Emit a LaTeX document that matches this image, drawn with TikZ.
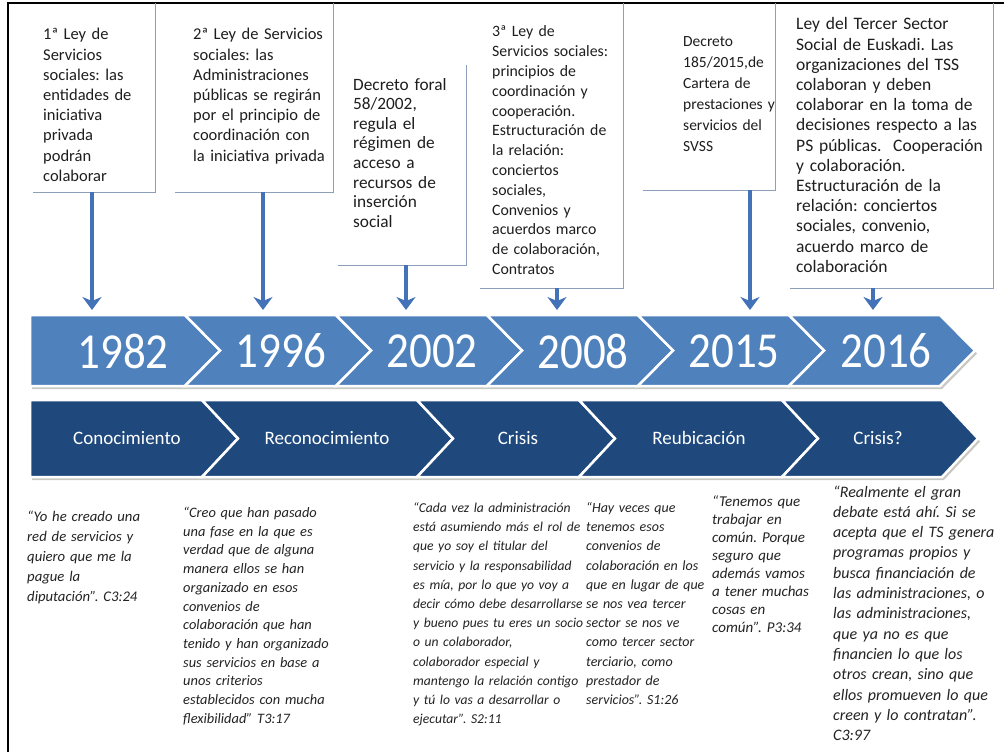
\documentclass[tikz,border=0pt]{standalone}
\usepackage{fontspec}
\setmainfont{Carlito}
\usetikzlibrary{arrows.meta}
\frenchspacing
\definecolor{topblue}{RGB}{79,129,189}
\definecolor{navyblue}{RGB}{31,73,125}
\definecolor{arrowblue}{RGB}{68,114,184}
\definecolor{edgegrey}{RGB}{140,158,186}
\definecolor{txtc}{RGB}{30,30,30}
\definecolor{quotec}{RGB}{35,35,35}
\definecolor{shadowc}{RGB}{200,200,195}
\newcommand{\fsz}[2]{\fontsize{#1}{#2}\selectfont}
\newcommand{\tightsp}{\spaceskip=0.19em plus 0.05em minus 0.02em\relax}
\tikzset{
  boxshape/.style={inner sep=0pt, draw=none},
  boxedge/.style={draw=edgegrey, line width=1.2pt},
  boxtxt/.style={anchor=base west, inner sep=0pt, text width=230pt, align=left, text=txtc},
  quotetxt/.style={anchor=base west, inner sep=0pt, text width=230pt, align=left, text=quotec},
  conn/.style={draw=arrowblue, line width=4.5pt, -{Stealth[length=13pt,width=19pt,inset=4pt]}},
  yearchev/.style={fill=topblue, draw=white, line width=2.5pt, line join=miter},
  phasechev/.style={fill=navyblue, draw=white, line width=2.5pt, line join=miter},
  chevshadow/.style={fill=shadowc},
  yeartxt/.style={text=white, inner sep=0pt, font=\fsz{45}{45}},
  phasetxt/.style={text=white, inner sep=0pt, font=\fsz{19}{22}},
  frameline/.style={draw=black, line width=2pt}
}
\begin{document}
\begin{tikzpicture}[x=1pt,y=-1pt]
\useasboundingbox (0,0) rectangle (1004,752);
\fill[white] (0,0) rectangle (1004,752);
% frame
\draw[frameline] (8,760) -- (8,3) -- (1010,3);

% boxes
\node[boxshape, minimum width=122pt, minimum height=189pt] (b1) at (94,97.5) {};
\node[boxshape, minimum width=158pt, minimum height=189pt] (b2) at (254,97.5) {};
\node[boxshape, minimum width=128pt, minimum height=200pt] (b3) at (402,165) {};
\node[boxshape, minimum width=143pt, minimum height=285pt] (b4) at (551.5,145.5) {};
\node[boxshape, minimum width=132pt, minimum height=187pt] (b5) at (709,96.5) {};
\node[boxshape, minimum width=203pt, minimum height=285pt] (b6) at (891.5,145.5) {};
\foreach \b in {b1,b2,b3,b4,b5,b6}{
  \draw[boxedge] (\b.north east) -- (\b.south east) -- (\b.south west);
}

\node[boxtxt, font=\fsz{16.5}{20.2}] (t1) at (43,40) {1ª Ley de\\Servicios\\sociales: las\\entidades de\\iniciativa\\privada\\podrán\\colaborar};
\node[boxtxt, font=\fsz{16.5}{20.2}] (t2) at (193,40) {2ª Ley de Servicios\\sociales: las\\Administraciones\\públicas se regirán\\por el principio de\\coordinación con\\la iniciativa privada};
\node[boxtxt, font=\fsz{17.3}{19.6}] (t3) at (353,90) {Decreto foral\\58/2002,\\regula el\\régimen de\\acceso a\\recursos de\\inserción\\social};
\node[boxtxt, font=\fsz{15.8}{19.8}] (t4) at (492,37) {3ª Ley de\\Servicios sociales:\\principios de\\coordinación y\\cooperación.\\Estructuración de\\la relación:\\conciertos\\sociales,\\Convenios y\\acuerdos marco\\de colaboración,\\Contratos};
\node[boxtxt, font=\fsz{15.5}{21}] (t5) at (683,47) {Decreto\\185/2015,de\\Cartera de\\prestaciones y\\servicios del\\SVSS};
\node[boxtxt, font=\fsz{17.5}{20.2}] (t6) at (796,30) {Ley del Tercer Sector\\Social de Euskadi. Las\\organizaciones del TSS\\colaboran y deben\\colaborar en la toma de\\decisiones respecto a las\\PS públicas.\ \ Cooperación\\y colaboración.\\Estructuración de la\\relación: conciertos\\sociales, convenio,\\acuerdo marco de\\colaboración};

% year chevrons (shadows first)
\fill[chevshadow] (32,318) -- (187,318) -- (222,353.5) -- (187,389) -- (32,389) -- cycle;
\foreach \xa/\xb in {220/371,371/522,522/673,673/824,824/975}{
  \fill[chevshadow] (\xa-35+2,318) -- (\xb-35+2,318) -- (\xb+2,353.5) -- (\xb-35+2,389) -- (\xa-35+2,389) -- (\xa+2,353.5) -- cycle;
}
\draw[yearchev] (30,315) -- (185,315) -- (220,350.5) -- (185,386) -- (30,386) -- cycle;
\foreach \xa/\xb in {220/371,371/522,522/673,673/824,824/975}{
  \draw[yearchev] (\xa-35,315) -- (\xb-35,315) -- (\xb,350.5) -- (\xb-35,386) -- (\xa-35,386) -- (\xa,350.5) -- cycle;
}
\node[yeartxt] (y1) at (123,351) {\scalebox{1}[1.12]{1982}};
\node[yeartxt] (y2) at (281,351) {\scalebox{1}[1.12]{1996}};
\node[yeartxt] (y3) at (432,351) {\scalebox{1}[1.12]{2002}};
\node[yeartxt] (y4) at (583,351) {\scalebox{1}[1.12]{2008}};
\node[yeartxt] (y5) at (734,351) {\scalebox{1}[1.12]{2015}};
\node[yeartxt] (y6) at (886,351) {\scalebox{1}[1.12]{2016}};

% phase chevrons
\fill[chevshadow] (32,403) -- (204,403) -- (240,441.5) -- (204,480) -- (32,480) -- cycle;
\foreach \xa/\xb in {238/453,453/615,615/818,818/978}{
  \fill[chevshadow] (\xa-36+2,403) -- (\xb-36+2,403) -- (\xb+2,441.5) -- (\xb-36+2,480) -- (\xa-36+2,480) -- (\xa+2,441.5) -- cycle;
}
\draw[phasechev] (30,400) -- (202,400) -- (238,438.5) -- (202,477) -- (30,477) -- cycle;
\foreach \xa/\xb in {238/453,453/615,615/818,818/978}{
  \draw[phasechev] (\xa-36,400) -- (\xb-36,400) -- (\xb,438.5) -- (\xb-36,477) -- (\xa-36,477) -- (\xa,438.5) -- cycle;
}
\node[phasetxt] (f1) at (127,438) {Conocimiento};
\node[phasetxt] (f2) at (327,438) {Reconocimiento};
\node[phasetxt] (f3) at (518,438) {Crisis};
\node[phasetxt] (f4) at (699,438) {Reubicación};
\node[phasetxt] (f5) at (878,438) {Crisis?};

% connectors
\coordinate (e1) at (92,310);
\coordinate (e2) at (263,310);
\coordinate (e3) at (406,310);
\coordinate (e4) at (557,310);
\coordinate (e5) at (750,310);
\coordinate (e6) at (873,310);
\draw[conn] (b1.south -| e1) -- (e1);
\draw[conn] (b2.south -| e2) -- (e2);
\draw[conn] (b3.south -| e3) -- (e3);
\draw[conn] (b4.south -| e4) -- (e4);
\draw[conn] (b5.south -| e5) -- (e5);
\draw[conn] (b6.south -| e6) -- (e6);

% quotes
\node[quotetxt, font=\itshape\fsz{14.7}{20}\tightsp] (q1) at (27,521.5) {“Yo he creado una\\red de servicios y\\quiero que me la\\pague la\\diputación”. C3:24};
\node[quotetxt, font=\itshape\fsz{14.4}{18.7}\tightsp] (q2) at (183,517.5) {“Creo que han pasado\\una fase en la que es\\verdad que de alguna\\manera ellos se han\\organizado en esos\\convenios de\\colaboración que han\\tenido y han organizado\\sus servicios en base a\\unos criterios\\establecidos con mucha\\flexibilidad” T3:17};
\node[quotetxt, font=\itshape\fsz{13.6}{19.2}\tightsp] (q3) at (413,512.5) {“Cada vez la administración\\está asumiendo más el rol de\\que yo soy el titular del\\servicio y la responsabilidad\\es mía, por lo que yo voy a\\decir cómo debe desarrollarse\\y bueno pues tu eres un socio\\o un colaborador,\\colaborador especial y\\mantengo la relación contigo\\y tú lo vas a desarrollar o\\ejecutar”. S2:11};
\node[quotetxt, font=\itshape\fsz{14}{19.2}\tightsp] (q4) at (586,512.5) {“Hay veces que\\tenemos esos\\convenios de\\colaboración en los\\que en lugar de que\\se nos vea tercer\\sector se nos ve\\como tercer sector\\terciario, como\\prestador de\\servicios”. S1:26};
\node[quotetxt, font=\itshape\fsz{15}{18}\tightsp] (q5) at (712,506) {“Tenemos que\\trabajar en\\común. Porque\\seguro que\\además vamos\\a tener muchas\\cosas en\\común”. P3:34};
\node[quotetxt, font=\itshape\fsz{16}{20.3}\tightsp] (q6) at (833,497) {“Realmente el gran\\debate está ahí. Si se\\acepta que el TS genera\\programas propios y\\busca financiación de\\las administraciones, o\\las administraciones,\\que ya no es que\\financien lo que los\\otros crean, sino que\\ellos promueven lo que\\creen y lo contratan”.\\C3:97};
\end{tikzpicture}
\end{document}
